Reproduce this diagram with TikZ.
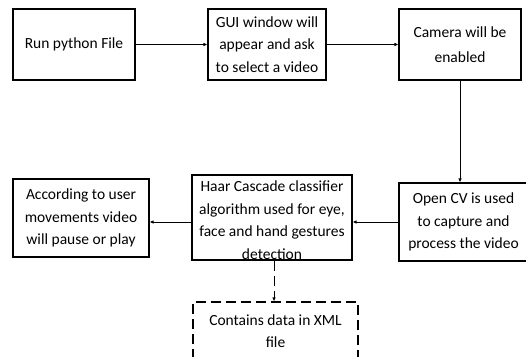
\documentclass[tikz,border=0pt]{standalone}
\usepackage{fontspec}
\setmainfont{Carlito}
\usetikzlibrary{arrows.meta}
\begin{document}
\begin{tikzpicture}[x=1pt,y=-1pt,
  box/.style={draw,line width=1.1pt,align=center,font=\fontsize{15.5}{22.5}\selectfont,inner sep=0pt},
  dbox/.style={box,dash pattern=on 10pt off 5pt},
  arr/.style={-{Latex[length=4pt,width=3.5pt]},line width=0.9pt}]
\useasboundingbox (0,0) rectangle (526,356);
\node[box,minimum width=122pt,minimum height=71pt] (run) at (74,44.5) {Run python File};
\node[box,minimum width=118pt,minimum height=71pt] (gui) at (267,44.5) {GUI window will\\appear and ask\\to select a video};
\node[box,minimum width=122pt,minimum height=71pt,font=\fontsize{15.5}{25}\selectfont] (cam) at (460,44.5) {Camera will be\\enabled};
\node[box,minimum width=129pt,minimum height=78pt] (ocv) at (463.5,222) {Open CV is used\\to capture and\\process the video};
\node[box,minimum width=160pt,minimum height=85pt] (haar) at (272,217.5) {};
\node[align=center,font=\fontsize{15.5}{22.5}\selectfont,inner sep=0pt] (haartext) at (272,220) {Haar Cascade classifier\\algorithm used for eye,\\face and hand gestures\\detection};
\node[box,minimum width=136pt,minimum height=78pt] (acc) at (81,218) {According to user\\movements video\\will pause or play};
\node[dbox,minimum width=165pt,minimum height=58pt] (xml) at (275.5,331) {Contains data in XML\\file};
\draw[arr] (run) -- (gui);
\draw[arr] (gui) -- (cam);
\draw[arr] (cam) -- (cam |- ocv.north);
\draw[arr] (ocv.west |- 0,222) -- (haar.east |- 0,222);
\draw[arr] (haar.west |- 0,222) -- (acc.east |- 0,222);
\draw[arr,dash pattern=on 10pt off 5pt] (haar.south -| 274,0) -- (xml.north -| 274,0);
\end{tikzpicture}
\end{document}
